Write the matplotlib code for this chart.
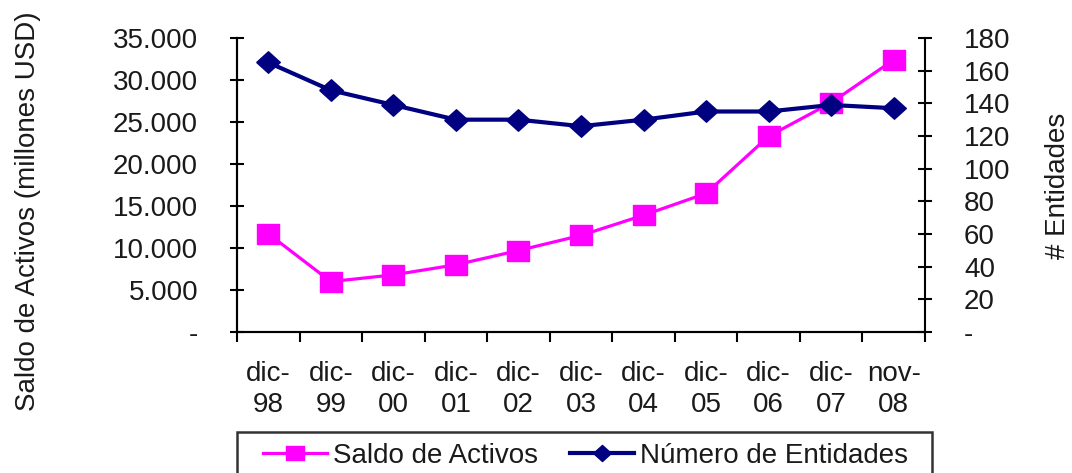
import matplotlib
matplotlib.use("Agg")
import matplotlib.pyplot as plt
from matplotlib.ticker import FuncFormatter, FixedLocator
from matplotlib.patches import Rectangle

plt.rcParams['font.family'] = ['Liberation Sans', 'DejaVu Sans']

categories = ["dic-\n98", "dic-\n99", "dic-\n00", "dic-\n01", "dic-\n02", "dic-\n03",
              "dic-\n04", "dic-\n05", "dic-\n06", "dic-\n07", "nov-\n08"]
saldo_activos = [11700, 6000, 6800, 8000, 9700, 11500, 13900, 16500, 23300, 27300, 32400]
num_entidades = [165, 148, 139, 130, 130, 126, 130, 135, 135, 139, 137]
left_ticks = [0, 5000, 10000, 15000, 20000, 25000, 30000, 35000]
right_ticks = [0, 20, 40, 60, 80, 100, 120, 140, 160, 180]

FS = 20
TXT = '#1a1a1a'

# slightly wide square and diamond, like the reference's markers
square_marker = [(-1.15, -1), (1.15, -1), (1.15, 1), (-1.15, 1), (-1.15, -1)]
diamond_marker = [(-1.1, 0), (0, 1), (1.1, 0), (0, -1), (-1.1, 0)]

fig = plt.figure(figsize=(10.72, 4.73), dpi=100)
ax = fig.add_axes([237/1072, 1-332/473, (925-237)/1072, (332-38)/473])
ax2 = ax.twinx()

x = list(range(len(categories)))
l1, = ax.plot(x, saldo_activos, color='#FF00FF', lw=2.3, marker=square_marker,
              markersize=16.5, label='Saldo de Activos', zorder=3)
l2, = ax2.plot(x, num_entidades, color='#000080', lw=3.0, marker=diamond_marker,
               markersize=17, label='Número de Entidades', zorder=3)

ax.set_xlim(-0.5, len(categories) - 0.5)
ax.set_ylim(0, 35000)
ax2.set_ylim(0, 180)

def thou(v, pos):
    if v == 0:
        return '-'
    return f"{int(v):,}".replace(',', '.')

def plain(v, pos):
    if v == 0:
        return '-'
    return f"{int(v)}"

ax.yaxis.set_major_locator(FixedLocator(left_ticks))
ax.yaxis.set_major_formatter(FuncFormatter(thou))
ax2.yaxis.set_major_locator(FixedLocator(right_ticks))
ax2.yaxis.set_major_formatter(FuncFormatter(plain))

ax.set_xticks(x)
ax.set_xticklabels(categories)
ax.set_xticks([i - 0.5 for i in range(len(categories) + 1)], minor=True)
ax.tick_params(axis='x', which='major', length=0, pad=21, labelsize=FS, colors=TXT)
ax.tick_params(axis='x', which='minor', direction='out', length=7, width=1.5, color='black')

ax.tick_params(axis='y', direction='inout', length=10, width=1.5, pad=23,
               labelsize=FS, labelcolor=TXT)
ax2.tick_params(axis='y', direction='inout', length=10, width=1.5, pad=23,
                labelsize=FS, labelcolor=TXT)

for a in (ax, ax2):
    a.spines['top'].set_visible(False)
    for s in ('left', 'right', 'bottom'):
        a.spines[s].set_linewidth(1.5)
ax.spines['right'].set_visible(False)

for lab in ax.get_xticklabels():
    lab.set_linespacing(1.22)

fig.text(28/1072, 1-211/473, 'Saldo de Activos (millones USD)', rotation=90,
         ha='center', va='center', fontsize=FS, color=TXT)
fig.text(1058/1072, 1-186/473, '# Entidades', rotation=90,
         ha='center', va='center', fontsize=FS, color=TXT)

# legend box (extends below the figure edge, as in the reference)
fig.patches.append(Rectangle((237/1072, -0.1), (932-237)/1072, 0.1 + 1 - 432/473,
                             transform=fig.transFigure, fill=False,
                             edgecolor='#333333', linewidth=1.8))
leg = fig.legend(handles=[l1, l2], loc='center left', ncol=2,
                 bbox_to_anchor=(263/1072, 1-456/473),
                 borderaxespad=0, borderpad=0, fontsize=FS, frameon=False,
                 handlelength=2.3, handletextpad=0.22, columnspacing=1.15,
                 markerscale=0.75)
for t in leg.get_texts():
    t.set_color(TXT)

fig.savefig('out.png', dpi=100)
